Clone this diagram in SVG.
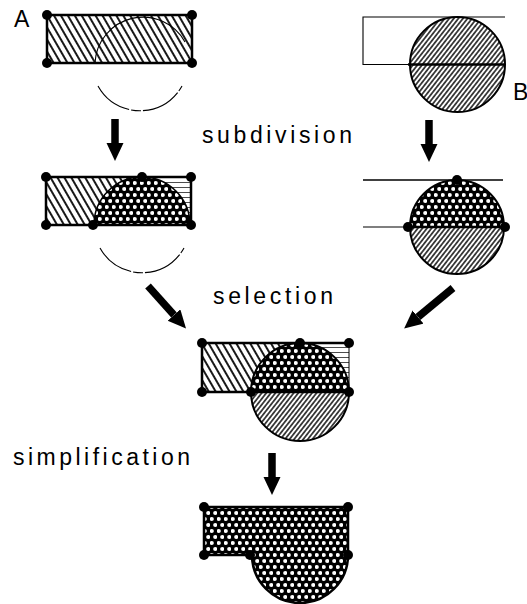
<svg xmlns="http://www.w3.org/2000/svg" width="527" height="604" viewBox="0 0 527 604">
<defs>
<pattern id="hA" width="6" height="10" patternUnits="userSpaceOnUse" patternTransform="rotate(-30)">
<rect width="6" height="10" fill="#fff"/>
<line x1="3" y1="-1" x2="3" y2="11" stroke="#000" stroke-width="1.8"/>
</pattern>
<pattern id="hB" width="3.6" height="10" patternUnits="userSpaceOnUse" patternTransform="rotate(38)">
<rect width="3.6" height="10" fill="#fff"/>
<line x1="1.8" y1="-1" x2="1.8" y2="11" stroke="#000" stroke-width="1.4"/>
</pattern>
<pattern id="cx" width="7" height="12" patternUnits="userSpaceOnUse">
<rect width="7" height="12" fill="#000"/>
<circle cx="1.75" cy="3" r="2.1" fill="#fff"/>
<circle cx="5.25" cy="9" r="2.1" fill="#fff"/>
</pattern>
<pattern id="hl" width="10" height="5" patternUnits="userSpaceOnUse">
<rect width="10" height="5" fill="#fff"/>
<line x1="0" y1="2.5" x2="10" y2="2.5" stroke="#000" stroke-width="0.7"/>
</pattern>
<marker id="ah" markerUnits="userSpaceOnUse" markerWidth="20" markerHeight="18" refX="0" refY="8.5" orient="auto">
<path d="M0,0 L18,8.5 L0,17 Z" fill="#000"/>
</marker>
<style>
.out{fill:none;stroke:#000;stroke-width:2.5}
.thin{fill:none;stroke:#000;stroke-width:1.1}
.dot{fill:#000}
.lbl{font-family:"Liberation Sans",Arial,sans-serif;font-size:23px;fill:#000}
.arr{stroke:#000;stroke-width:7.5;fill:none;marker-end:url(#ah)}
</style>
</defs>
<rect width="527" height="604" fill="#fff"/>

<g id="nodeA">
<rect x="47" y="15" width="145" height="48" fill="url(#hA)"/>
<path class="thin" d="M95,63 A48,48 0 0 1 185,42"/>
<rect class="out" x="47" y="15" width="145" height="48"/>
<path class="thin" d="M98,86 A48,48 0 0 0 182,86" stroke-dasharray="40 2 10 2"/>
<circle class="dot" cx="47" cy="15" r="5"/><circle class="dot" cx="192" cy="15" r="5"/>
<circle class="dot" cx="47" cy="63" r="5"/><circle class="dot" cx="192" cy="63" r="5"/>
<text class="lbl" x="14" y="27" font-size="17">A</text>
</g>

<g id="nodeB">
<path class="thin" d="M505,17 L363,17 L363,64.5 L410,64.5"/>
<circle cx="457.5" cy="64.5" r="47.5" fill="url(#hB)" stroke="#000" stroke-width="2"/>
<line x1="408" y1="64.5" x2="505" y2="64.5" stroke="#000" stroke-width="2.5"/>
<text class="lbl" x="513" y="100" font-size="19">B</text>
</g>

<g id="nodeA2">
<rect x="46" y="177" width="145" height="48" fill="url(#hA)"/>
<path d="M142,177 L191,177 L191,225 L190,225 A48,48 0 0 0 142,177 Z" fill="url(#hl)"/>
<path d="M94,225 A48,48 0 0 1 190,225 Z" fill="url(#cx)" stroke="#000" stroke-width="1.5"/>
<rect class="out" x="46" y="177" width="145" height="48"/>
<path class="thin" d="M100,248 A48,48 0 0 0 184,248" stroke-dasharray="40 2 10 2"/>
<circle class="dot" cx="46" cy="177" r="5"/><circle class="dot" cx="142" cy="177" r="5"/><circle class="dot" cx="191" cy="177" r="5"/>
<circle class="dot" cx="46" cy="225" r="5"/><circle class="dot" cx="93" cy="225" r="5"/><circle class="dot" cx="191" cy="225" r="5"/>
</g>

<g id="nodeB2">
<line x1="363" y1="180" x2="503" y2="180" stroke="#000" stroke-width="1.6"/>
<line x1="363" y1="227" x2="408" y2="227" stroke="#000" stroke-width="1.2"/>
<path d="M410,227 A47,47 0 0 1 504,227 Z" fill="url(#cx)"/>
<path d="M410,227 A47,47 0 0 0 504,227 Z" fill="url(#hB)"/>
<circle cx="457" cy="227" r="47" fill="none" stroke="#000" stroke-width="2"/>
<line x1="408" y1="227" x2="505" y2="227" stroke="#000" stroke-width="2.5"/>
<circle class="dot" cx="457" cy="180" r="5"/><circle class="dot" cx="408" cy="227" r="5"/><circle class="dot" cx="505" cy="227" r="5"/>
</g>

<g id="nodeC">
<rect x="202" y="343" width="147" height="49" fill="url(#hA)"/>
<path d="M300,343 L349,343 L349,392 A49,49 0 0 0 300,343 Z" fill="url(#hl)"/>
<path d="M251,392 A49,49 0 0 1 349,392 Z" fill="url(#cx)"/>
<path d="M251,392 A49,49 0 0 0 349,392 Z" fill="url(#hB)"/>
<circle cx="300" cy="392" r="49" fill="none" stroke="#000" stroke-width="2"/>
<path class="out" d="M349,343 L202,343 L202,392 L349,392"/>
<line x1="349" y1="343" x2="349" y2="392" stroke="#000" stroke-width="1"/>
<circle class="dot" cx="202" cy="343" r="5"/><circle class="dot" cx="300" cy="343" r="5"/><circle class="dot" cx="349" cy="343" r="5"/>
<circle class="dot" cx="202" cy="392" r="5"/><circle class="dot" cx="251" cy="392" r="5"/><circle class="dot" cx="349" cy="392" r="5"/>
</g>

<g id="nodeD">
<path d="M204,507 L348,507 L348,555 A48,48 0 0 1 252,555 L204,555 Z" fill="url(#cx)" stroke="#000" stroke-width="2.5"/>
<circle class="dot" cx="204" cy="507" r="5"/><circle class="dot" cx="348" cy="507" r="5"/>
<circle class="dot" cx="204" cy="555" r="5"/><circle class="dot" cx="250" cy="555" r="5"/><circle class="dot" cx="348" cy="555" r="5"/>
</g>

<g id="connectors">
<line class="arr" x1="115" y1="119" x2="115" y2="143"/>
<line class="arr" x1="429" y1="120" x2="429" y2="144"/>
<line class="arr" x1="272" y1="453" x2="272" y2="477"/>
<line class="arr" x1="148" y1="286" x2="174" y2="315"/>
<line class="arr" x1="453" y1="288" x2="418" y2="317"/>
</g>

<g id="labels">
<text class="lbl" x="202" y="143" textLength="150" lengthAdjust="spacing">subdivision</text>
<text class="lbl" x="213" y="304" textLength="120" lengthAdjust="spacing">selection</text>
<text class="lbl" x="13" y="465" textLength="177" lengthAdjust="spacing">simplification</text>
</g>
</svg>
